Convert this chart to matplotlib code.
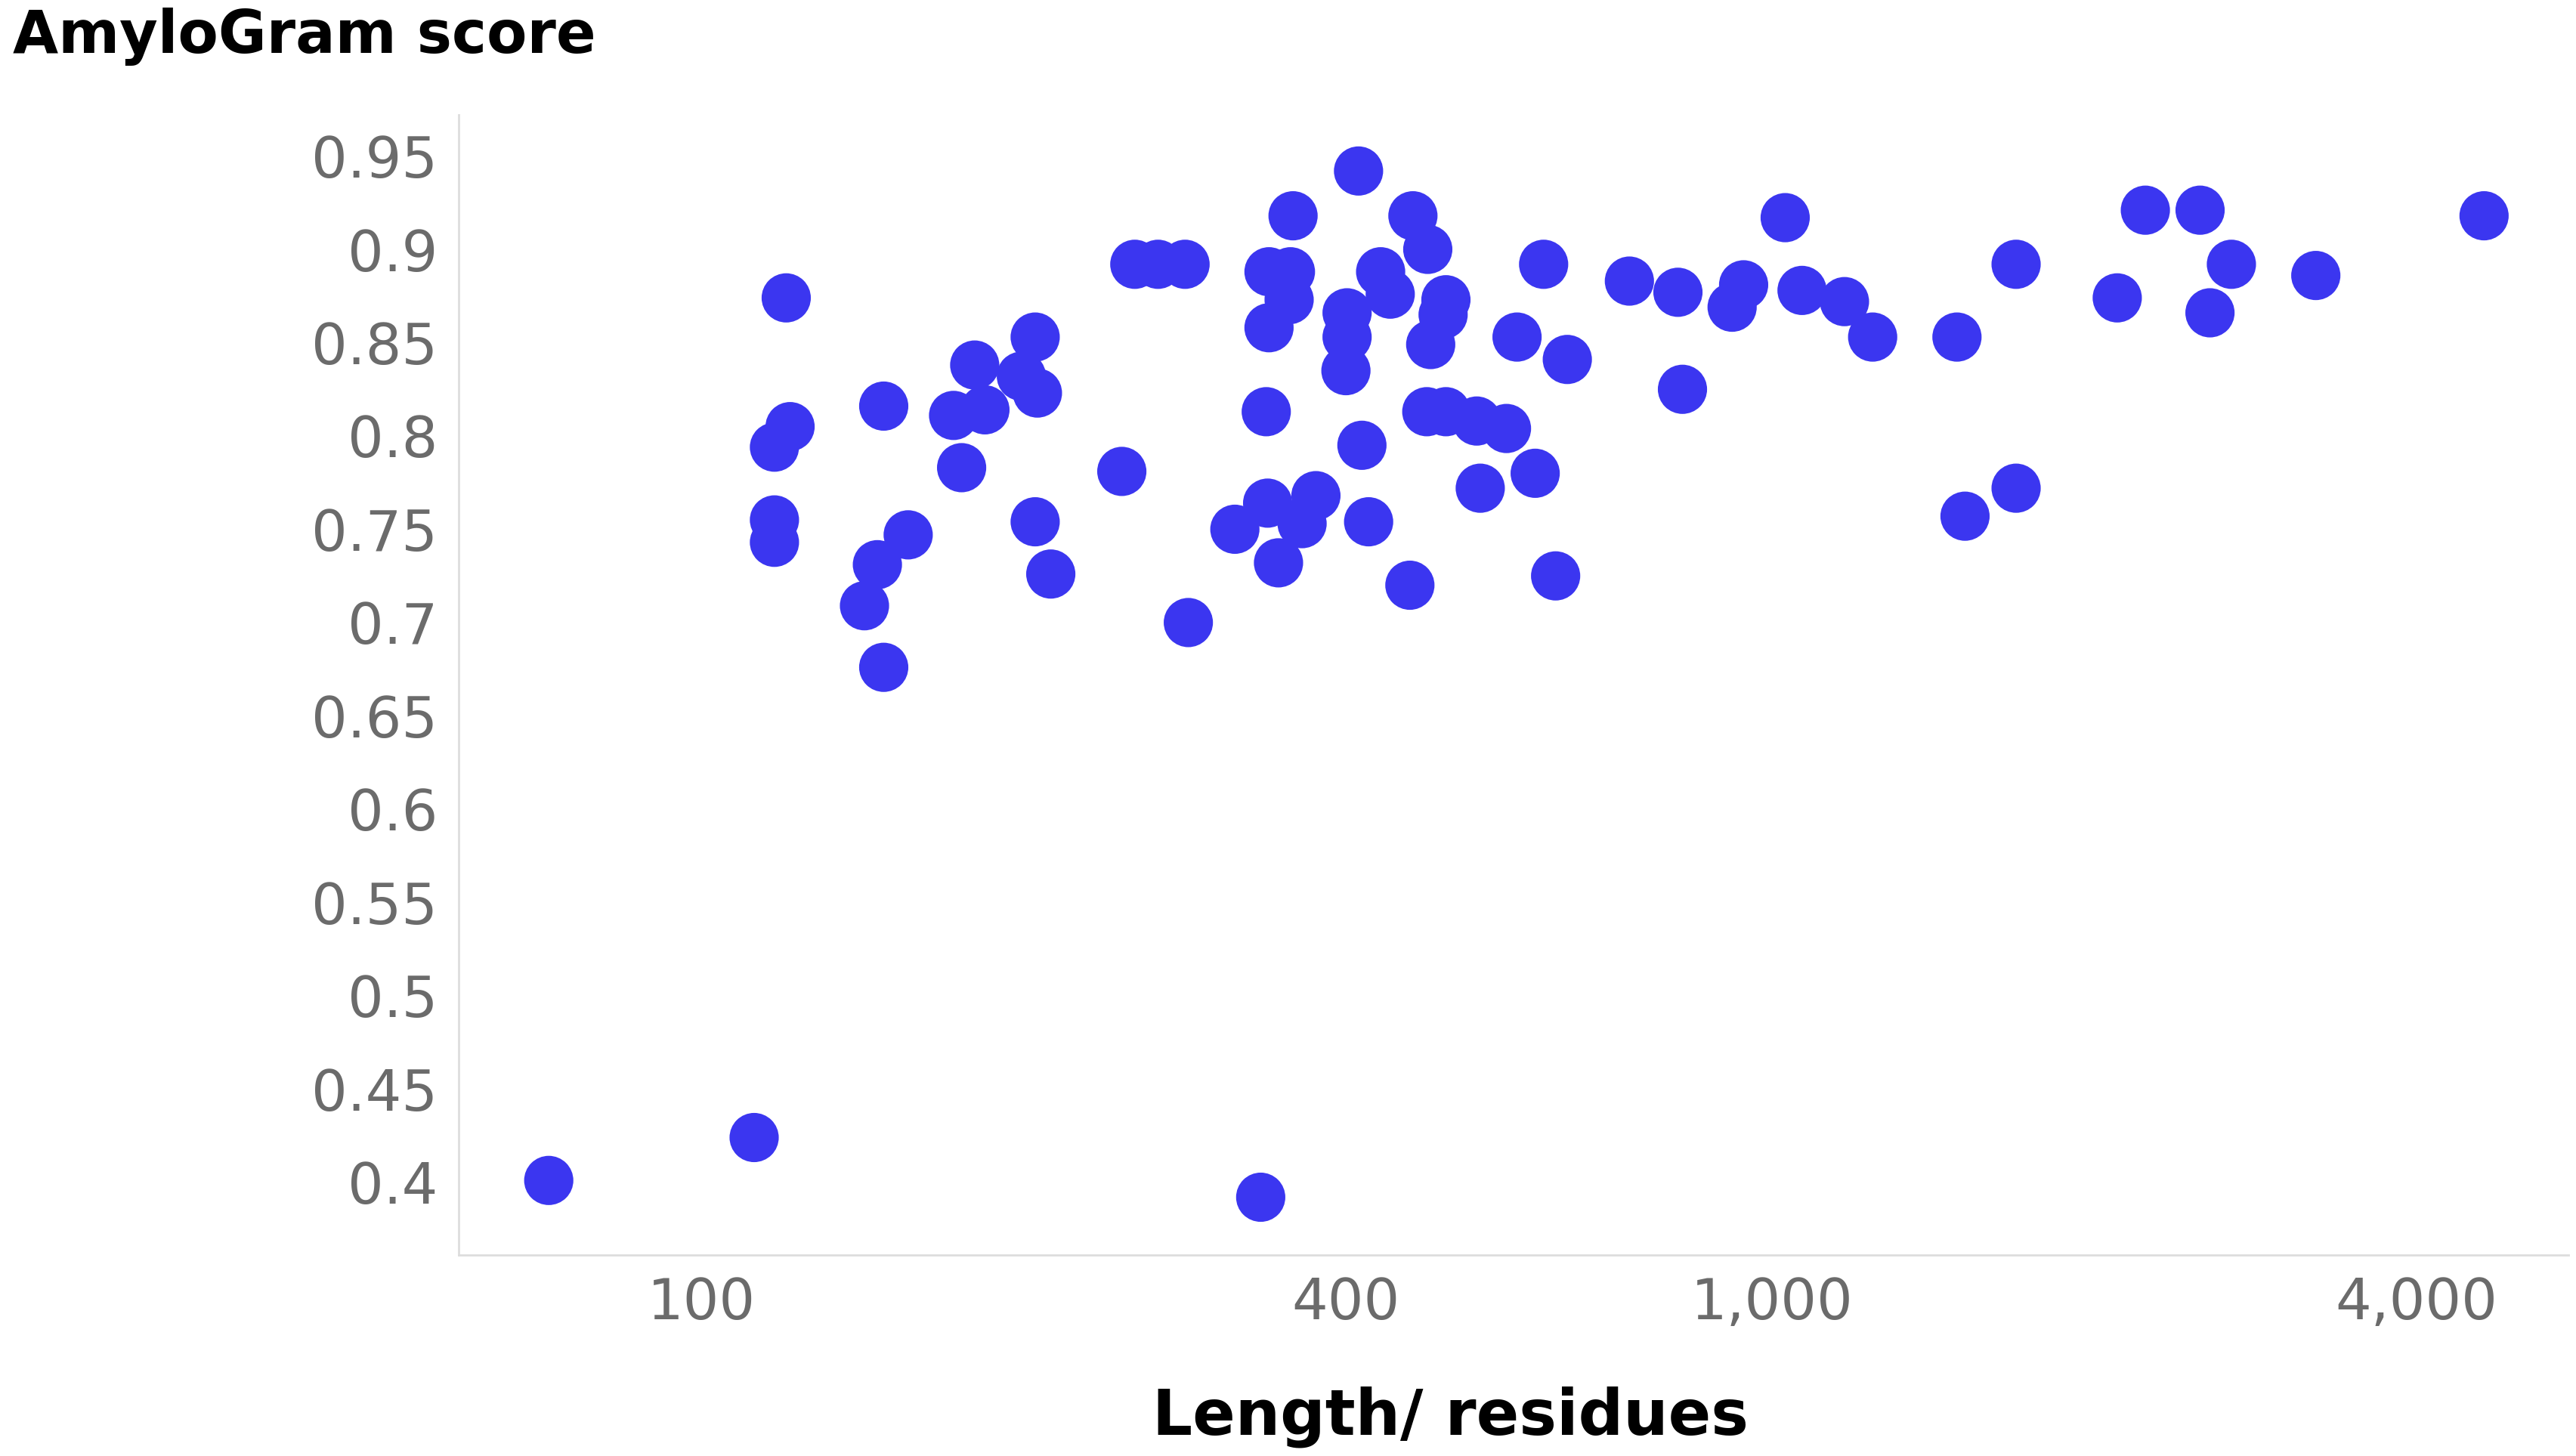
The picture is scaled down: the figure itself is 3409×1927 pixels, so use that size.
import numpy as np
import matplotlib.pyplot as plt

length = [72, 112, 333, 120, 117, 121, 117, 117, 142, 146, 148, 148, 156, 172, 175, 180,
          184, 199, 205, 206, 205, 212, 247, 254, 267, 283, 285, 315, 337, 338, 339, 339,
          346, 354, 355, 357, 364, 375, 400, 401, 401, 411, 414, 420, 431, 440, 459, 462,
          476, 477, 480, 493, 496, 496, 530, 534, 565, 578, 601, 612, 628, 644, 736, 817,
          825, 918, 941, 1029, 1067, 1169, 1242, 1489, 1515, 1691, 1691, 2102, 2233, 2512,
          2566, 2687, 3222, 4627]
score = [0.401, 0.424, 0.392, 0.874, 0.794, 0.805, 0.755, 0.743, 0.709, 0.731, 0.676, 0.816,
         0.747, 0.811, 0.783, 0.838, 0.814, 0.832, 0.853, 0.823, 0.754, 0.726, 0.781, 0.892,
         0.892, 0.892, 0.700, 0.750, 0.813, 0.764, 0.858, 0.888, 0.732, 0.873, 0.888, 0.918,
         0.753, 0.768, 0.835, 0.853, 0.866, 0.942, 0.795, 0.754, 0.888, 0.876, 0.720, 0.918,
         0.813, 0.900, 0.849, 0.865, 0.873, 0.813, 0.808, 0.772, 0.804, 0.853, 0.780, 0.892,
         0.725, 0.841, 0.883, 0.877, 0.825, 0.869, 0.881, 0.917, 0.878, 0.872, 0.853, 0.853,
         0.757, 0.892, 0.772, 0.874, 0.921, 0.921, 0.866, 0.892, 0.886, 0.918]
x_ticks = [100, 400, 1000, 4000]
x_labels = ['100', '400', '1,000', '4,000']
y_ticks = [0.4, 0.45, 0.5, 0.55, 0.6, 0.65, 0.7, 0.75, 0.8, 0.85, 0.9, 0.95]
y_labels = ['0.4', '0.45', '0.5', '0.55', '0.6', '0.65', '0.7', '0.75', '0.8', '0.85', '0.9', '0.95']

fig = plt.figure(figsize=(34.09, 19.27), dpi=100)
ax = fig.add_axes([0.178, 0.138, 0.819, 0.783])
ax.scatter(length, score, s=2200, color='#3b36f0', edgecolors='none', zorder=3)
ax.set_xscale('log')
ax.set_xlim(59.3, 5546)
ax.set_ylim(0.361, 0.972)
ax.set_xticks(x_ticks)
ax.set_xticklabels(x_labels)
ax.minorticks_off()
ax.set_yticks(y_ticks)
ax.set_yticklabels(y_labels)
ax.tick_params(labelsize=54, colors='#6b6b6b', length=0, pad=20)
for side in ['top', 'right']:
    ax.spines[side].set_visible(False)
for side in ['left', 'bottom']:
    ax.spines[side].set_color('#dddddd')
    ax.spines[side].set_linewidth(2)

fig.text(0.005, 0.975, 'AmyloGram score', fontsize=56, fontweight='bold', va='center', ha='left')
fig.text(0.563, 0.027, 'Length/ residues', fontsize=60, fontweight='bold', va='center', ha='center')

fig.savefig('out.png', dpi=100)
